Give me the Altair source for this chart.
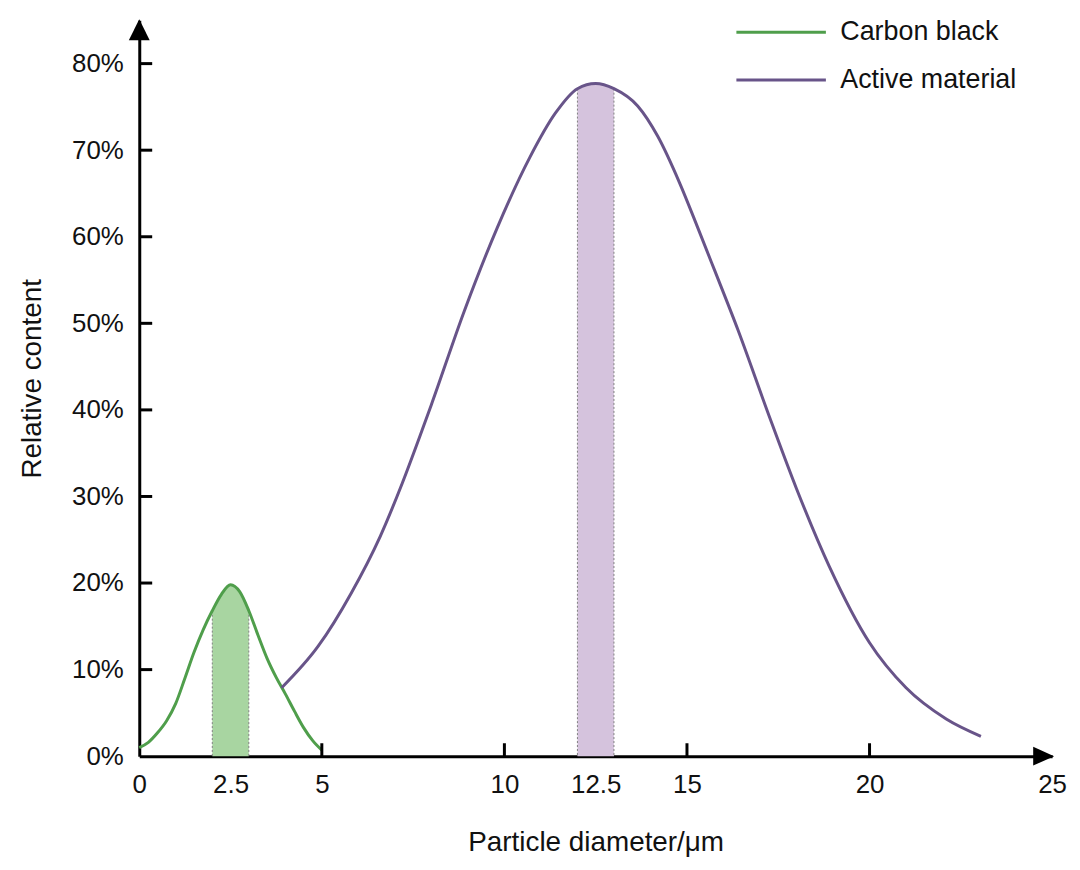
import altair as alt
import pandas as pd

# ---- data ----
series_names = ["Carbon black", "Active material"]

green_x = [0, 0.25, 0.5, 0.75, 1.0, 1.25, 1.5, 1.75, 2.0, 2.25, 2.5, 2.75,
           3.0, 3.25, 3.5, 3.75, 4.0, 4.25, 4.5, 4.75, 5.0]
green_y = [1.0, 1.6, 2.7, 4.1, 6.1, 9.0, 12.0, 14.6, 16.8, 18.7, 19.8, 19.0,
           16.8, 14.0, 11.3, 9.1, 7.2, 5.2, 3.3, 1.8, 0.7]

purple_x = [3.9, 4.9, 5.8, 6.6, 7.2, 7.75, 8.0, 8.9, 9.8, 10.7, 11.4, 12.0,
            12.5, 13.0, 13.65, 14.2, 14.8, 15.3, 15.75, 16.4, 17.25, 18.0,
            18.9, 20.0, 21.0, 22.1, 23.05]
purple_y = [7.9, 12.7, 18.8, 25.4, 31.5, 37.7, 40.6, 51.4, 61.0, 69.2, 74.3,
            77.1, 77.7, 77.1, 75.1, 71.6, 66.2, 61.0, 56.2, 49.2, 39.3, 30.9,
            21.9, 13.1, 7.9, 4.3, 2.3]

# highlighted bands (x ranges)
green_band = [2.0, 3.0]
purple_band = [12.0, 13.0]

x_tick_labels = [0, 2.5, 5, 10, 12.5, 15, 20, 25]
x_tick_marks = [5, 10, 15, 20]
y_tick_labels = [0, 10, 20, 30, 40, 50, 60, 70, 80]
y_tick_marks = [10, 20, 30, 40, 50, 60, 70, 80]

GREEN = "#4f9e4b"
GREEN_FILL = "#a8d5a1"
PURPLE = "#685489"
PURPLE_FILL = "#d5c3dd"
FONT = "Liberation Sans"

# ---- tables ----
curves = pd.concat([
    pd.DataFrame({"x": green_x, "y": green_y, "series": series_names[0]}),
    pd.DataFrame({"x": purple_x, "y": purple_y, "series": series_names[1]}),
], ignore_index=True)

g = pd.DataFrame({"x": green_x, "y": green_y})
p = pd.DataFrame({"x": purple_x, "y": purple_y})
g_band = g[(g.x >= green_band[0]) & (g.x <= green_band[1])]
p_band = p[(p.x >= purple_band[0]) & (p.x <= purple_band[1])]

edges = pd.concat([
    g_band[g_band.x.isin(green_band)],
    p_band[p_band.x.isin(purple_band)],
], ignore_index=True)

xscale = alt.Scale(domain=[0, 25], nice=False)
yscale = alt.Scale(domain=[0, 85], nice=False)

x_axis = alt.Axis(values=x_tick_labels, labelExpr="'' + datum.value",
                  title="Particle diameter/μm", grid=False, tickSize=0,
                  domainColor="black", domainWidth=3, labelPadding=16,
                  titlePadding=31, labelFlush=False, labelFontSize=26)
y_axis = alt.Axis(values=y_tick_labels, labelExpr="datum.value + '%'",
                  title="Relative content", grid=False, tickSize=0,
                  domainColor="black", domainWidth=3, labelPadding=16,
                  titlePadding=25, labelFlush=False, labelFontSize=26,
                  titleY=360)

area_g = alt.Chart(g_band).mark_area(opacity=1, color=GREEN_FILL, interpolate="monotone").encode(
    x=alt.X("x:Q", scale=xscale, axis=x_axis),
    y=alt.Y("y:Q", scale=yscale, axis=y_axis, stack=None),
)
area_p = alt.Chart(p_band).mark_area(opacity=1, color=PURPLE_FILL, interpolate="monotone").encode(
    x="x:Q",
    y=alt.Y("y:Q", stack=None),
)

rules = alt.Chart(edges).mark_rule(color="#808080", strokeDash=[2, 2], strokeWidth=1).encode(
    x="x:Q", y="y:Q", y2=alt.datum(0)
)

lines = alt.Chart(curves).mark_line(strokeWidth=3, interpolate="monotone").encode(
    x="x:Q",
    y="y:Q",
    color=alt.Color("series:N",
                    scale=alt.Scale(domain=series_names, range=[GREEN, PURPLE]),
                    sort=series_names,
                    legend=alt.Legend(title=None, orient="none", legendX=599, legendY=-3,
                                      symbolType="stroke", symbolSize=8100,
                                      symbolStrokeWidth=3, labelFontSize=27,
                                      labelFont=FONT, labelColor="#111",
                                      labelLimit=0,
                                      clipHeight=30, rowPadding=18, labelOffset=13,
                                      padding=0)),
)

xt = alt.Chart(pd.DataFrame({"x": x_tick_marks})).mark_tick(
    orient="vertical", size=13, thickness=3, color="black", yOffset=-6.5, opacity=1
).encode(x="x:Q", y=alt.datum(0))

yt = alt.Chart(pd.DataFrame({"y": y_tick_marks})).mark_tick(
    orient="horizontal", size=13, thickness=3, color="black", xOffset=6.5, opacity=1
).encode(y="y:Q", x=alt.datum(0))

one = pd.DataFrame({"a": [0]})
arrow_x = alt.Chart(one).mark_point(
    shape="M-1,-0.9L1,0L-1,0.9Z", size=441, filled=True, color="black",
    opacity=1, strokeWidth=0, xOffset=-8.5
).encode(x=alt.datum(25), y=alt.datum(0))
arrow_y = alt.Chart(one).mark_point(
    shape="M0,-1L1,1L-1,1Z", size=441, filled=True, color="black",
    opacity=1, strokeWidth=0, yOffset=9.5
).encode(x=alt.datum(0), y=alt.datum(85))

chart = alt.layer(area_g, area_p, rules, lines, xt, yt, arrow_x, arrow_y).properties(
    width=918, height=740,
    autosize=alt.AutoSizeParams(type="none"),
    padding={"left": 132, "top": 10, "right": 20, "bottom": 100},
).configure_view(stroke=None).configure_axis(
    labelFont=FONT, titleFont=FONT, titleFontSize=28,
    labelColor="#111", titleColor="#111", titleFontWeight="normal",
)

chart.save("out.html", embed_options={"renderer": "svg", "actions": False})
